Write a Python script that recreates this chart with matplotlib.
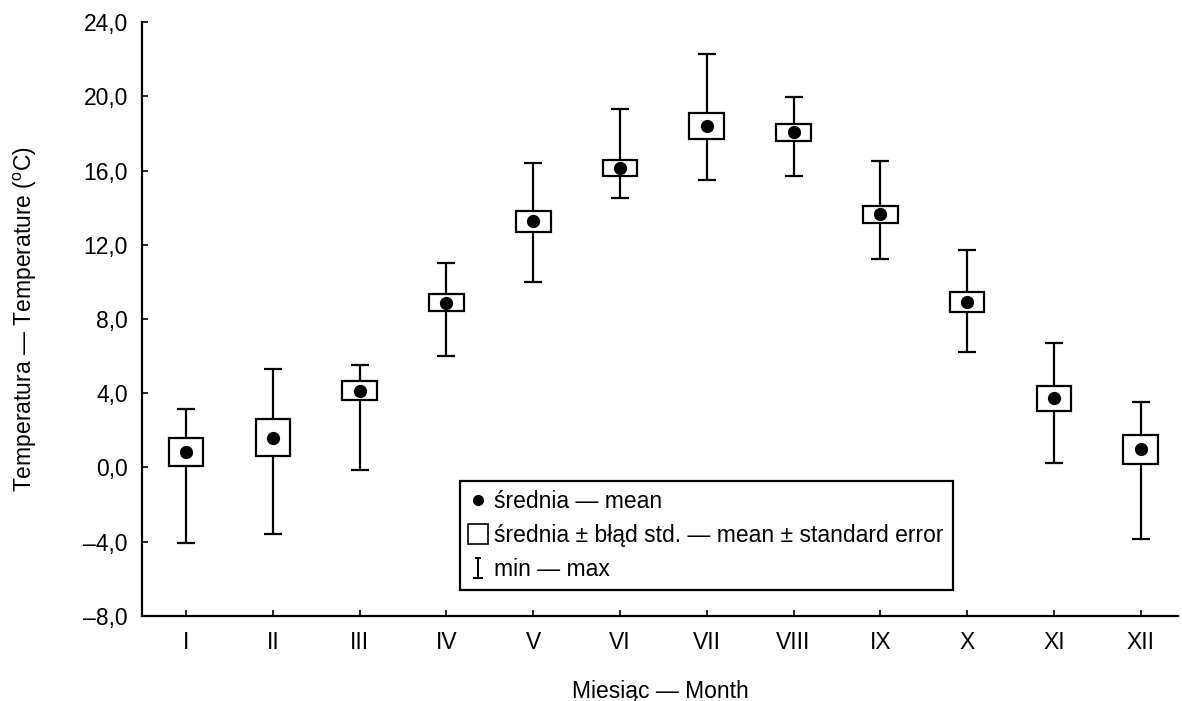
#!/usr/bin/env python3
"""Monthly air temperature: mean, mean ± SE and min–max range."""

import matplotlib
matplotlib.use("Agg")
import matplotlib.pyplot as plt
from matplotlib.lines import Line2D
from matplotlib.path import Path
from matplotlib.ticker import FuncFormatter, MultipleLocator

months = ["I", "II", "III", "IV", "V", "VI", "VII", "VIII", "IX", "X", "XI", "XII"]
means = [0.85, 1.6, 4.13, 8.87, 13.26, 16.13, 18.4, 18.05, 13.65, 8.92, 3.72, 0.99]
std_err = [0.76, 1.0, 0.52, 0.45, 0.57, 0.41, 0.72, 0.47, 0.46, 0.54, 0.68, 0.78]
t_min = [-4.06, -3.56, -0.15, 6.03, 10.0, 14.5, 15.48, 15.7, 11.22, 6.21, 0.24, -3.85]
t_max = [3.13, 5.33, 5.51, 11.02, 16.4, 19.3, 22.3, 19.98, 16.49, 11.74, 6.71, 3.54]

plt.rcParams["font.family"] = ["Liberation Sans", "DejaVu Sans"]
plt.rcParams["mathtext.fontset"] = "custom"
plt.rcParams["mathtext.rm"] = "Liberation Sans"
plt.rcParams["font.size"] = 16.5


def fmt_tick(v, _pos):
    return f"{v:.1f}".replace(".", ",").replace("-", "\u2013")


x = list(range(1, len(months) + 1))

fig, ax = plt.subplots(figsize=(11.82, 7.01), dpi=100)
fig.subplots_adjust(left=0.12, right=0.9966, top=0.9686, bottom=0.1213)

lw = 1.6
yerr = [[m - lo for m, lo in zip(means, t_min)], [hi - m for m, hi in zip(means, t_max)]]
ax.errorbar(x, means, yerr=yerr, fmt="none", ecolor="black", elinewidth=lw,
            capsize=6.5, capthick=lw, zorder=2)
ax.bar(x, [2 * s for s in std_err], bottom=[m - s for m, s in zip(means, std_err)],
       width=0.4, facecolor="white", edgecolor="black", linewidth=lw, zorder=3)
ax.plot(x, means, ls="none", marker="o", color="black", markersize=8.5, zorder=4)

ax.set_xlim(0.49, 12.43)
ax.set_ylim(-8, 24)
ax.set_xticks(x)
ax.set_xticklabels(months)
ax.yaxis.set_major_locator(MultipleLocator(4))
ax.yaxis.set_major_formatter(FuncFormatter(fmt_tick))
ax.tick_params(direction="in", length=4, width=1.2)
ax.tick_params(axis="y", pad=10)
ax.tick_params(axis="x", pad=11)

for side in ("top", "right"):
    ax.spines[side].set_visible(False)
for side in ("left", "bottom"):
    ax.spines[side].set_linewidth(lw)

ax.set_xlabel("Miesiąc — Month")
ax.set_ylabel("Temperatura — Temperature ($\\mathrm{^{o}}$C)")
ax.xaxis.set_label_coords(0.5, -0.107)
ax.yaxis.set_label_coords(-0.099, 0.5)

ibeam = Path([(-0.5, -1), (0.5, -1), (0, -1), (0, 1), (-0.35, 1), (0.35, 1)],
             [Path.MOVETO, Path.LINETO, Path.MOVETO, Path.LINETO, Path.MOVETO, Path.LINETO])
handles = [
    Line2D([], [], ls="none", marker="o", color="black", markersize=7),
    Line2D([], [], ls="none", marker="s", markerfacecolor="white",
           markeredgecolor="black", markeredgewidth=1.2, markersize=14),
    Line2D([], [], ls="none", marker=ibeam, markeredgecolor="black",
           markeredgewidth=1.4, markersize=14),
]
labels = [
    "średnia — mean",
    "średnia ± błąd std. — mean ± standard error",
    "min — max",
]
leg = ax.legend(handles, labels, loc="lower left", bbox_to_anchor=(0.307, 0.044),
                frameon=True, fancybox=False, framealpha=1, edgecolor="black",
                fontsize=16.5, handlelength=0.8, handletextpad=0.3,
                labelspacing=0.47, borderpad=0.4, borderaxespad=0)
leg.get_frame().set_linewidth(lw)

fig.savefig("out.png", dpi=100)
